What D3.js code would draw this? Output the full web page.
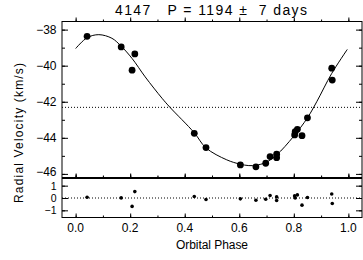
<!DOCTYPE html>
<html>
<head>
<meta charset="utf-8">
<script src="https://cdn.jsdelivr.net/npm/d3@7"></script>
<style>
  body { margin: 0; background: #fff; }
  text { font-family: "Liberation Sans", Arial, sans-serif; fill: #000; }
</style>
</head>
<body>
<div id="chart"></div>
<script>
// observed points (phase, radial velocity km/s, O-C residual)
const phase = [0.042, 0.167, 0.207, 0.217, 0.435, 0.478, 0.604, 0.661, 0.697, 0.713,
               0.737, 0.737, 0.803, 0.805, 0.813, 0.830, 0.850, 0.939, 0.941];
const rv    = [-38.37, -38.96, -40.25, -39.35, -43.75, -44.54, -45.50, -45.61, -45.41, -45.04,
               -44.91, -45.10, -43.84, -43.66, -43.53, -43.88, -42.89, -40.14, -40.80];
const resid = [0.06, 0.01, -0.68, 0.52, 0.12, -0.12, -0.07, -0.18, -0.10, 0.20,
               0.09, -0.20, 0.17, 0.00, 0.25, -0.58, 0.04, 0.33, -0.44];

// orbit fit curve
const fitPhase = [0.0, 0.042, 0.085, 0.133, 0.167, 0.207, 0.255, 0.317, 0.346, 0.435, 0.478,
                  0.554, 0.603, 0.635, 0.661, 0.697, 0.737, 0.798, 0.850, 0.884, 0.939, 0.996];
const fitRV    = [-39.05, -38.45, -38.28, -38.48, -38.92, -39.60, -40.62, -41.81, -42.31, -43.72, -44.56,
                  -45.22, -45.46, -45.54, -45.52, -45.37, -44.95, -43.94, -42.89, -42.00, -40.43, -39.10];

const gamma = -42.31;
const titleText = "4147   P = 1194 \u00b1  7 days";
const xTicks = [0, 0.2, 0.4, 0.6, 0.8, 1.0];
const xMinor = d3.range(0, 1.01, 0.1);
const yTicks = [-38, -40, -42, -44, -46];
const yMinor = [-38, -39, -40, -41, -42, -43, -44, -45, -46];
const resTicks = [1, 0, -1];

const width = 363, height = 260;
const left = 62, right = 362;
const mainTop = 21.5, mainBottom = 177.5, resTop = 178.5, resBottom = 217.5;

const svg = d3.select("#chart").append("svg")
    .attr("width", width)
    .attr("height", height);

const x = d3.scaleLinear().domain([-0.05, 1.05]).range([left, right]);
const y = d3.scaleLinear().domain([-46.2, -37.55]).range([mainBottom, mainTop]);
const yr = d3.scaleLinear().domain([-1.58, 1.58]).range([resBottom, resTop]);

const minus = d => d3.format("d")(d).replace("-", "\u2212");

function drawAxes(ys, top, bottom, majorY, minorY, labelX, fontSize, nudge) {
    const clean = g => g.select(".domain").remove();
    // y major / minor ticks, both sides, pointing inward
    svg.append("g").attr("transform", `translate(${left},0)`)
        .call(d3.axisLeft(ys).tickValues(minorY).tickSize(-3).tickFormat(""))
        .call(clean);
    svg.append("g").attr("transform", `translate(${left},0)`)
        .call(d3.axisLeft(ys).tickValues(majorY).tickSize(-6).tickFormat(minus))
        .call(clean)
        .call(g => g.selectAll("text")
            .attr("font-size", fontSize)
            .attr("x", -5.5)
            .attr("y", d => nudge(d)));
    svg.append("g").attr("transform", `translate(${right},0)`)
        .call(d3.axisRight(ys).tickValues(minorY).tickSize(-3).tickFormat(""))
        .call(clean);
    svg.append("g").attr("transform", `translate(${right},0)`)
        .call(d3.axisRight(ys).tickValues(majorY).tickSize(-6).tickFormat(""))
        .call(clean);
    // x ticks top and bottom
    [[top, d3.axisTop, 4], [bottom, d3.axisBottom, -4]].forEach(([yy, ax, s]) => {
        svg.append("g").attr("transform", `translate(0,${yy})`)
            .call(ax(x).tickValues(xMinor).tickSize(s / 2).tickFormat(""))
            .call(clean);
        svg.append("g").attr("transform", `translate(0,${yy})`)
            .call(ax(x).tickValues(xTicks).tickSize(s).tickFormat(""))
            .call(clean);
    });
    if (labelX) {
        svg.append("g").selectAll("text")
            .data(xTicks)
            .join("text")
            .attr("x", d => x(d))
            .attr("y", bottom + 14)
            .attr("text-anchor", "middle")
            .attr("font-size", 12)
            .text(d3.format(".1f"));
    }
    svg.append("rect")
        .attr("x", left).attr("y", top)
        .attr("width", right - left).attr("height", bottom - top)
        .attr("fill", "none").attr("stroke", "#000").attr("stroke-width", 1);
}

// main panel
svg.append("line")
    .attr("x1", left).attr("x2", right)
    .attr("y1", y(gamma)).attr("y2", y(gamma))
    .attr("stroke", "#000").attr("stroke-dasharray", "1,2");

const fit = fitPhase.map((p, i) => [p, fitRV[i]]);
svg.append("path")
    .datum(fit)
    .attr("fill", "none")
    .attr("stroke", "#000")
    .attr("stroke-width", 1)
    .attr("d", d3.line().x(d => x(d[0])).y(d => y(d[1])).curve(d3.curveCatmullRom));

svg.append("g").selectAll("circle")
    .data(phase)
    .join("circle")
    .attr("cx", d => x(d))
    .attr("cy", (d, i) => y(rv[i]))
    .attr("r", 3.4)
    .attr("fill", "#000");

drawAxes(y, mainTop, mainBottom, yTicks, yMinor, false, 12, d => d === -46 ? -2 : 0);

// residual panel
svg.append("line")
    .attr("x1", left).attr("x2", right)
    .attr("y1", yr(0)).attr("y2", yr(0))
    .attr("stroke", "#000").attr("stroke-dasharray", "1,2");

svg.append("g").selectAll("circle")
    .data(phase)
    .join("circle")
    .attr("cx", d => x(d))
    .attr("cy", (d, i) => yr(resid[i]))
    .attr("r", 1.8)
    .attr("fill", "#000");

drawAxes(yr, resTop, resBottom, resTicks, resTicks, true, 10.5, d => d === 1 ? 0.5 : 0);

// titles
svg.append("text")
    .attr("x", 115).attr("y", 15)
    .attr("font-size", 14)
    .attr("xml:space", "preserve")
    .style("white-space", "pre")
    .attr("textLength", 192)
    .attr("lengthAdjust", "spacing")
    .text(titleText);

svg.append("text")
    .attr("x", 212).attr("y", 249)
    .attr("text-anchor", "middle")
    .attr("font-size", 12)
    .attr("textLength", 72)
    .attr("lengthAdjust", "spacing")
    .text("Orbital Phase");

svg.append("text")
    .attr("transform", "translate(23,133) rotate(-90)")
    .attr("text-anchor", "middle")
    .attr("font-size", 12)
    .attr("textLength", 140)
    .attr("lengthAdjust", "spacing")
    .text("Radial Velocity (km/s)");
</script>
</body>
</html>
